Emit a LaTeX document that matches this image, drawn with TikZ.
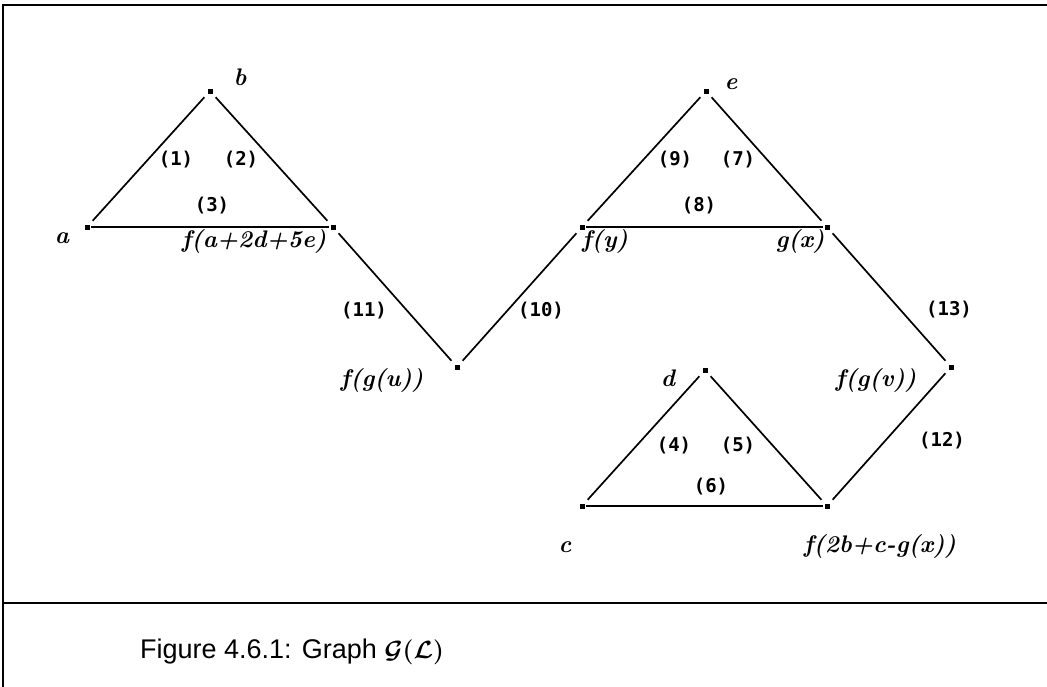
\documentclass[tikz,border=0pt]{standalone}
\usepackage{amsmath}
\usepackage{fontspec}
\setsansfont{Liberation Sans}
\newfontfamily\numfont{DejaVu Sans Mono}
\begin{document}
\begin{tikzpicture}[x=1pt,y=-1pt,
  vtx/.style={rectangle,fill=black,inner sep=0pt,minimum size=5pt,outer sep=0pt},
  diag/.style={line width=1.7pt,shorten <=5pt,shorten >=5pt},
  base/.style={line width=2.6pt,shorten <=1.5pt,shorten >=1.5pt},
  num/.style={font=\numfont\bfseries\fontsize{19}{19}\selectfont,inner sep=0pt},
  hand/.style={font=\bfseries\itshape\fontsize{24}{24}\selectfont,inner sep=0pt},
  frame/.style={line width=1.8pt}]
\useasboundingbox (0,0) rectangle (1047,686);
% frame
\draw[frame] (1060,5) -- (3,5) -- (3,700);
\draw[frame] (3,603) -- (1060,603);
% vertices
\node[vtx] (a) at (87,227) {};
\node[vtx] (b) at (210,91) {};
\node[vtx] (fa) at (333,227) {};
\node[vtx] (fgu) at (457,367) {};
\node[vtx] (fy) at (582,227) {};
\node[vtx] (e) at (706,91) {};
\node[vtx] (gx) at (827,227) {};
\node[vtx] (fgv) at (951,367) {};
\node[vtx] (d) at (705,370) {};
\node[vtx] (c) at (582,506) {};
\node[vtx] (fb) at (827,506) {};
% edges
\draw[diag] (a) -- (b);
\draw[diag] (b) -- (fa);
\draw[base] (a) -- (fa);
\draw[diag] (fa) -- (fgu);
\draw[diag] (fgu) -- (fy);
\draw[diag] (fy) -- (e);
\draw[diag] (e) -- (gx);
\draw[base] (fy) -- (gx);
\draw[diag] (gx) -- (fgv);
\draw[diag] (fgv) -- (fb);
\draw[diag] (c) -- (d);
\draw[diag] (d) -- (fb);
\draw[base] (c) -- (fb);
% edge numbers
\node[num] (n1) at (176,160) {(1)};
\node[num] (n2) at (241,160) {(2)};
\node[num] (n3) at (212,206) {(3)};
\node[num] (n11) at (364,311) {(11)};
\node[num] (n10) at (541,311) {(10)};
\node[num] (n9) at (675,160) {(9)};
\node[num] (n7) at (738,160) {(7)};
\node[num] (n8) at (699,206) {(8)};
\node[num] (n13) at (949,310) {(13)};
\node[num] (n4) at (674,446) {(4)};
\node[num] (n5) at (738,446) {(5)};
\node[num] (n6) at (711,487) {(6)};
\node[num] (n12) at (942,441) {(12)};
% vertex labels
\node[hand] (lb) at (240,77) {b};
\node[hand] (la) at (62,238) {a};
\node[hand] (lfa) at (254,241) {f(a+2d+5e)};
\node[hand] (lfgu) at (382,380) {f(g(u))};
\node[hand] (le) at (731,84) {e};
\node[hand] (lfy) at (605,241) {f(y)};
\node[hand] (lgx) at (800,241) {g(x)};
\node[hand] (lfgv) at (876,380) {f(g(v))};
\node[hand] (ld) at (668,378) {d};
\node[hand] (lc) at (565,547) {c};
\node[hand] (lfb) at (880,546) {f(2b+c-g(x))};
% caption
\node[anchor=base west,inner sep=0pt,font=\sffamily\fontsize{27}{27}\selectfont] (cap) at (140,658) {Figure 4.6.1: Graph $\boldsymbol{\mathcal{G}(\mathcal{L})}$};
\end{tikzpicture}
\end{document}
